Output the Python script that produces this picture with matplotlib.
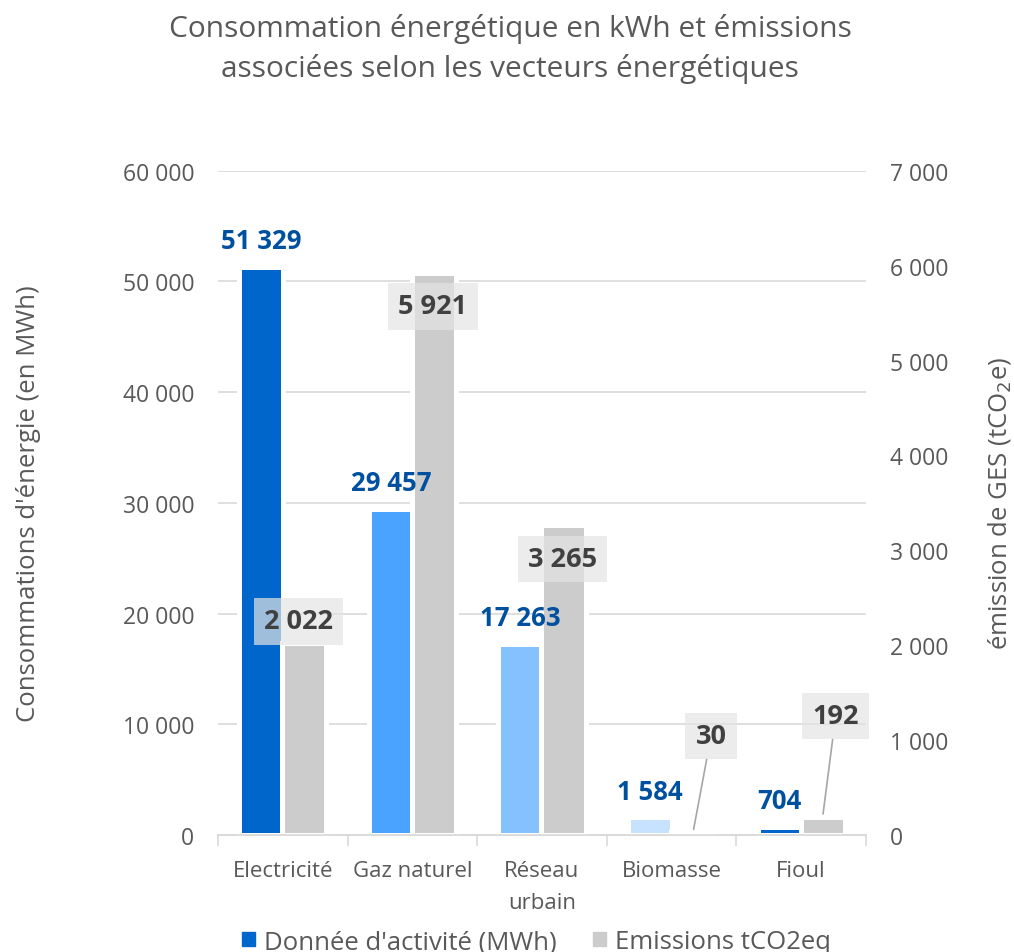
import matplotlib.pyplot as plt
import numpy as np
from matplotlib.ticker import FuncFormatter
from matplotlib.patches import Patch

plt.rcParams['font.family'] = ['Open Sans', 'DejaVu Sans']

categories = ["Electricité", "Gaz naturel", "Réseau\nurbain", "Biomasse", "Fioul"]
activite_mwh = [51329, 29457, 17263, 1584, 704]
emissions_t = [2022, 5921, 3265, 30, 192]
blue_colours = ["#0066CC", "#4AA3FF", "#85C1FF", "#C6E2FF", "#0066CC"]
grey = "#CCCCCC"

# manual placement of the emission labels: x shift in px, y in right-axis units
grey_label_pos = [(-6, 2250), (-1, 5570), (-1, 2910), (18, 1044), (13, 1254)]
grey_leader = [False, False, False, True, True]


def fmt(v, pos=None):
    return f"{int(v):,}".replace(",", " ")


fig = plt.figure(figsize=(10.14, 9.53), dpi=100)
ax = fig.add_axes([0.215, 0.1228, 0.639, 0.697])
ax2 = ax.twinx()

x = np.arange(len(categories))
w = 0.34
off = 0.166
ax.bar(x - off, activite_mwh, width=w, color=blue_colours, edgecolor='white', linewidth=3.6, zorder=3)
ax2.bar(x + off, emissions_t, width=w, color=grey, edgecolor='white', linewidth=3.6, zorder=3)

ax.set_xlim(-0.5, len(categories) - 0.5)
ax.set_ylim(0, 60000)
ax2.set_ylim(0, 7000)
ax.set_yticks(np.arange(0, 60001, 10000))
ax2.set_yticks(np.arange(0, 7001, 1000))
ax.yaxis.set_major_formatter(FuncFormatter(fmt))
ax2.yaxis.set_major_formatter(FuncFormatter(fmt))
ax.grid(axis='y', color='#D9D9D9', linewidth=1.2, zorder=0)

for a in (ax, ax2):
    for s in ('top', 'left', 'right'):
        a.spines[s].set_visible(False)
    a.spines['bottom'].set_color('#D9D9D9')
    a.spines['bottom'].set_linewidth(1.2)
    a.tick_params(axis='y', length=0, labelsize=16.5, labelcolor='#595959', pad=17)
ax2.spines['bottom'].set_zorder(4)

ax.set_xticks(np.arange(-0.5, len(categories)), minor=False)
ax.set_xticklabels([])
ax.tick_params(axis='x', which='major', length=8, color='#D9D9D9', width=1.2)
ax.set_xticks(x, minor=True)
ax.set_xticklabels(categories, minor=True)
ax.tick_params(axis='x', which='minor', length=0, labelsize=16, labelcolor='#595959', pad=18)
for t in ax.get_xticklabels(minor=True):
    t.set_linespacing(1.72)

ax.set_ylabel("Consommations d'énergie (en MWh)", fontsize=18.5, color='#595959', labelpad=59)
ax2.set_ylabel("émission de GES (tCO$_2$e)", fontsize=18.5, color='#595959', labelpad=27)

# value labels, drawn on ax2 so they sit above the grey bars
for i, v in enumerate(activite_mwh):
    ax2.annotate(fmt(v), (x[i] - off, v), xycoords=ax.transData, xytext=(0, 19),
                 textcoords='offset points', ha='center', va='center',
                 fontsize=18.5, fontweight='bold', color='#0050A0', zorder=6)

for i, v in enumerate(emissions_t):
    dx, ly = grey_label_pos[i]
    xy = (x[i] + off, v)
    xt = x[i] + off + dx / 129.6
    props = dict(arrowstyle='-', color='#A6A6A6', lw=1.2, shrinkA=0, shrinkB=2) if grey_leader[i] else None
    ax2.annotate(fmt(v), xy, xytext=(xt, ly), textcoords='data', ha='center', va='center',
                 fontsize=19.5, fontweight='bold', color='#404040', zorder=5,
                 bbox=dict(boxstyle='square,pad=0.38', fc='#E4E4E4', ec='none', alpha=0.7),
                 arrowprops=props)

fig.text(0.503, 0.985, "Consommation énergétique en kWh et émissions\nassociées selon les vecteurs énergétiques",
         ha='center', va='top', fontsize=21.5, color='#595959', linespacing=1.43)

handles = [Patch(color='#0066CC'), Patch(color=grey)]
fig.legend(handles, ["Donnée d'activité (MWh)", "Emissions tCO2eq"], loc='center',
           bbox_to_anchor=(0.529, 0.011), ncol=2, frameon=False, fontsize=18.5,
           handlelength=0.5, handleheight=0.5, handletextpad=0.35, columnspacing=1.4,
           labelcolor='#595959')

fig.savefig("out.png", dpi=100)
